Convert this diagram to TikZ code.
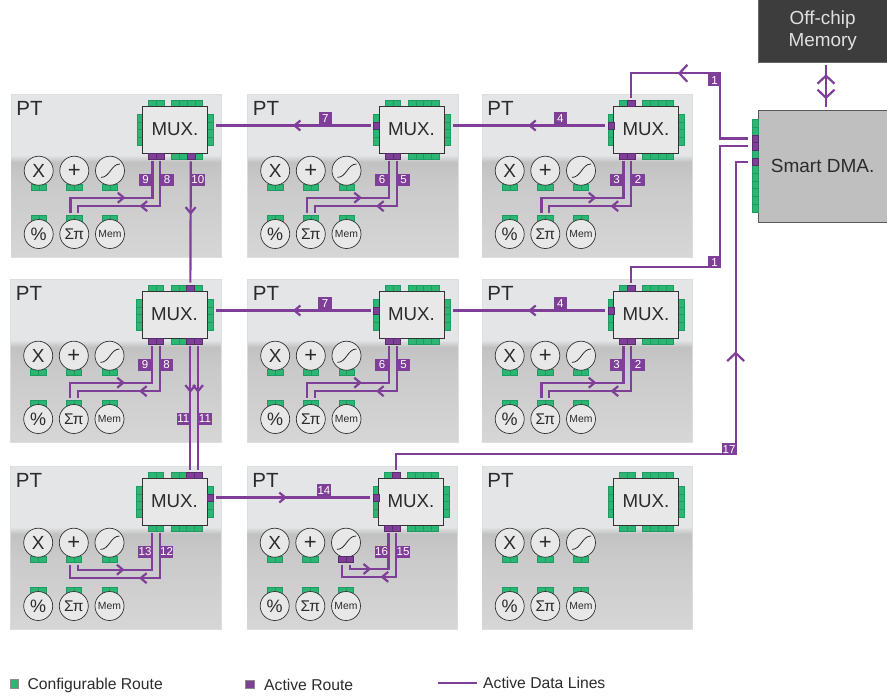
\documentclass[tikz,border=0pt]{standalone}
\usepackage{fontspec}
\setmainfont{Liberation Sans}
\usepackage{xcolor}
\usetikzlibrary{arrows.meta, decorations.markings, shapes.geometric}

\definecolor{routegreen}{HTML}{2BB673}
\definecolor{routeedge}{HTML}{1F9A62}
\definecolor{routepurple}{HTML}{7F3F98}
\definecolor{panelface}{HTML}{E4E5E6}
\definecolor{inkdark}{HTML}{2B2B2B}

\tikzset{
    smallbarb/.tip={Straight Barb[length=6pt,width=10pt]},
    largebarb/.tip={Straight Barb[length=8pt,width=17pt]},
    dataline/.style={draw=routepurple, line width=2.2pt, shorten <=2.5pt, shorten >=2.5pt},
    midarrow/.style={postaction={decorate, decoration={markings,
        mark=at position #1 with {\arrow{smallbarb}}}}},
    largearrow/.style={postaction={decorate, decoration={markings,
        mark=at position #1 with {\arrow{largebarb}}}}},
    largeback/.style={postaction={decorate, decoration={markings,
        mark=at position #1 with {\arrowreversed{largebarb}}}}},
    portcell/.style={draw=routeedge, fill=routegreen, line width=0.35pt, inner sep=0pt, outer sep=0pt,
        minimum width=7.67pt, minimum height=6pt},
    portside/.style={portcell, minimum width=6pt, minimum height=7.67pt},
    portlive/.style={portcell, fill=routepurple, draw=routepurple!70!black},
    portsidelive/.style={portside, fill=routepurple, draw=routepurple!70!black},
    ptpanel/.style={draw=black!13, fill=panelface, line width=0.8pt, inner sep=0pt,
        minimum width=210.5pt, minimum height=163pt},
    muxbox/.style={draw=black!80, fill=black!9, line width=0.9pt, inner sep=0pt,
        minimum width=65pt, minimum height=47pt, text=inkdark, font=\fontsize{18.7}{20}\selectfont},
    fncircle/.style={circle, draw=black!80, fill=black!9, line width=0.7pt, inner sep=0pt,
        minimum size=29pt, text=inkdark},
    routetag/.style={fill=routepurple, text=white, inner sep=0pt, minimum width=13.5pt, minimum height=12pt,
        font=\fontsize{11.5}{12}\selectfont},
    keytext/.style={anchor=west, inner sep=0pt, text=inkdark, font=\fontsize{15.7}{17}\selectfont},
    keycell/.style={draw=black!45, line width=0.3pt, inner sep=0pt, minimum size=8.5pt}
}

% One processing tile: backing, ports, multiplexer and function circles
\newcommand{\pttile}[3]{
    \begin{scope}[shift={(#2,#3)}]
        \node[ptpanel] (#1) at (105.25,81.5) {};
        \shade[top color=panelface, bottom color=black!24] (0.4,61) rectangle (210.1,68);
        \shade[top color=black!24, bottom color=black!21] (0.4,68) rectangle (210.1,90);
        \shade[top color=black!21, bottom color=black!16] (0.4,90) rectangle (210.1,162.6);
        \node[anchor=west, inner sep=0pt, text=inkdark, font=\fontsize{20.5}{22}\selectfont] (#1-pt) at (5.2,14.5) {PT};
        \coordinate (#1-tagy) at (0,85.5);

        % Ports round the multiplexer
        \foreach \i in {1,2} {
            \node[portcell] (#1-tl\i) at ({133.83+7.67*\i},9) {};
            \node[portcell] (#1-bl\i) at ({133.83+7.67*\i},61.85) {};
        }
        \foreach \i in {1,...,4} {
            \node[portcell] (#1-tr\i) at ({156.83+7.67*\i},9) {};
            \node[portcell] (#1-br\i) at ({156.83+7.67*\i},61.85) {};
            \node[portside] (#1-lf\i) at (128.7,{16.17+7.67*\i}) {};
            \node[portside] (#1-rt\i) at (199.5,{16.17+7.67*\i}) {};
        }
        \node[muxbox] (#1-mux) at (164,35.5) {\raisebox{-0.5pt}{MUX.}};

        % Function ports, then the circles on top of them
        \foreach \fn/\cx/\cy in {x/27.7/93, add/63.3/93, sig/99/93, mod/27.7/124.3, sum/63.3/124.3, mem/99/124.3} {
            \node[portcell] (#1-\fn1) at (\cx-3.83,\cy) {};
            \node[portcell] (#1-\fn2) at (\cx+3.83,\cy) {};
        }
        \foreach \fn/\cx/\cy/\fs/\txt in {x/27.7/76.7/19/X, add/63.3/76.7/22/+, sig/99/76.7/10/{},
                                          mod/27.7/140/18/\%, sum/63.3/140/15.5/Σπ, mem/99/140/10.4/Mem} {
            \node[fncircle, font=\fontsize{\fs}{\fs}\selectfont] (#1-\fn) at (\cx,\cy) {\txt};
        }
        \draw[inkdark, line width=0.8pt] ([shift={(-9,6.7)}]#1-sig.center)
            .. controls +(9,0) and +(-9,0) .. ([shift={(10,-6.7)}]#1-sig.center);
    \end{scope}
}

% Pair of routes between the multiplexer and the sum circle
\newcommand{\sumroutes}[3]{
    \draw[dataline, midarrow=72.6pt] (#1-sum1.north) -- ++(0,-17.6) -| (#1-bl1.south);
    \draw[dataline, midarrow=68pt] (#1-bl2.south) -- ++(0,47.3) -| (#1-sum2.north);
    \node[routetag, anchor=east] (#1-tag#2) at (#1-bl1 |- #1-tagy) {#2};
    \node[routetag, anchor=west] (#1-tag#3) at (#1-bl2 |- #1-tagy) {#3};
}

\begin{document}
\begin{tikzpicture}[x=1pt, y=-1pt]
    \useasboundingbox (0,0) rectangle (887,697);

    % Tiles
    \pttile{a1}{11}{94}
    \pttile{b1}{247.5}{94}
    \pttile{c1}{482}{94}
    \pttile{a2}{10.5}{279}
    \pttile{b2}{247.5}{279}
    \pttile{c2}{482}{279}
    \pttile{a3}{10.5}{466}
    \pttile{b3}{247}{466}
    \pttile{c3}{482}{466}

    % Off-chip memory and the DMA block with its port strip
    \node[draw=black!60, fill=black!76, text=black!12, inner sep=0pt, minimum width=128.7pt, minimum height=64.3pt,
          align=center, font=\fontsize{18.9}{23}\selectfont] (offchip) at (822.65,30.15) {\raisebox{-1pt}{Off-chip}\\Memory};
    \node[draw=black!65, fill=black!25, text=inkdark, inner sep=0pt, minimum width=128.7pt, minimum height=112pt,
          font=\fontsize{19}{21}\selectfont] (dma) at (822.65,165.7) {Smart DMA.};
    \foreach \i in {1,...,12} {
        \node[portside] (dma-p\i) at (755.3,{115.45+7.7*\i}) {};
    }

    % Routes in use
    \foreach \p in {a1-bl1,a1-bl2,a1-br3,b1-bl1,b1-bl2,c1-bl1,c1-bl2,c1-tl2,
                    a2-tr3,a2-bl1,a2-bl2,a2-br3,a2-br4,b2-bl1,b2-bl2,c2-bl1,c2-bl2,c2-tl2,
                    a3-tr3,a3-tr4,b3-tl2,b3-bl1,b3-bl2,b3-sig1,b3-sig2} {
        \node[portlive] (\p-on) at (\p) {};
    }
    \foreach \p in {b1-lf2,c1-lf2,b2-lf2,c2-lf2,b3-lf2,a3-rt2,dma-p3,dma-p4,dma-p6} {
        \node[portsidelive] (\p-on) at (\p) {};
    }

    % Memory link
    \coordinate (memlink) at (826,30);
    \draw[dataline, largeback=11.7pt, largearrow=36.7pt] (offchip.south -| memlink) -- (dma.north -| memlink);

    % Lines out of the DMA block
    \coordinate (dma-upa) at (720.3,73.3);
    \coordinate (dma-upb) at (720.3,267.3);
    \coordinate (dma-upc) at (735.7,454.3);
    \draw[dataline, shorten <=4pt, largearrow=139.7pt] (dma-p3.west) -| (dma-upa) -| (c1-tl2.north);
    \draw[dataline, shorten <=4pt] (dma-p4.west) -| (dma-upb) -| (c2-tl2.north);
    \draw[dataline, shorten <=2pt, shorten >=4pt, largearrow=460pt] (b3-tl2.north) |- (dma-upc) |- (dma-p6.west);
    \node[routetag, anchor=north east] (c1-tag1) at ([shift={(1.1,0.9)}]dma-upa) {1};
    \node[routetag, anchor=south east] (c2-tag1) at ([shift={(1.1,1.1)}]dma-upb) {1};
    \node[routetag, anchor=south east, minimum width=15pt] (b3-tag17) at ([shift={(1.1,1.1)}]dma-upc) {17};

    % Lines between tiles, row by row
    \draw[dataline, midarrow=80.5pt] (b1-lf2.west) -- node[routetag, anchor=south, pos=0.30] (b1-tag7) {7} (a1-rt2.east);
    \draw[dataline, midarrow=79.7pt] (c1-lf2.west) -- node[routetag, anchor=south, pos=0.30] (c1-tag4) {4} (b1-rt2.east);
    \draw[dataline, midarrow=80.5pt] (b2-lf2.west) -- node[routetag, anchor=south, pos=0.30] (b2-tag7) {7} (a2-rt2.east);
    \draw[dataline, midarrow=79.7pt] (c2-lf2.west) -- node[routetag, anchor=south, pos=0.30] (c2-tag4) {4} (b2-rt2.east);
    \draw[dataline, midarrow=74pt] (a3-rt2.east) -- node[routetag, anchor=south, pos=0.695] (a3-tag14) {14} (b3-lf2.west);

    % Lines down the left column
    \draw[dataline, midarrow=56pt] (a1-br3.south) -- (a2-tr3.north);
    \node[routetag, anchor=west] (a1-tag10) at (a1-br3 |- a1-tagy) {10};
    \draw[dataline, midarrow=49pt] (a2-br3.south) -- (a3-tr3.north);
    \draw[dataline, midarrow=49pt] (a2-br4.south) -- (a3-tr4.north);
    \node[routetag, anchor=east] (a2-tag11a) at ([yshift=-54pt]a2-br3 |- a2-tagy) {11};
    \node[routetag, anchor=west] (a2-tag11b) at ([yshift=-54pt]a2-br4 |- a2-tagy) {11};

    % Routes inside the tiles
    \sumroutes{a1}{9}{8}
    \sumroutes{b1}{6}{5}
    \sumroutes{c1}{3}{2}
    \sumroutes{a2}{9}{8}
    \sumroutes{b2}{6}{5}
    \sumroutes{c2}{3}{2}

    \draw[dataline, midarrow=54.7pt] (a3-add2.south) -- ++(0,7.7) -| (a3-bl1.south);
    \draw[dataline, midarrow=68pt] (a3-bl2.south) -- ++(0,47.3) -| (a3-add1.south);
    \node[routetag, anchor=east] (a3-tag13) at (a3-bl1 |- a3-tagy) {13};
    \node[routetag, anchor=west] (a3-tag12) at (a3-bl2 |- a3-tagy) {12};

    \draw[dataline, midarrow=28.4pt] (b3-sig2.south) -- ++(0,7) -| (b3-bl1.south);
    \draw[dataline, midarrow=61.7pt] (b3-bl2.south) -- ++(0,46) -| (b3-sig1.south);
    \node[routetag, anchor=east] (b3-tag16) at (b3-bl1 |- b3-tagy) {16};
    \node[routetag, anchor=west] (b3-tag15) at (b3-bl2 |- b3-tagy) {15};

    % Legend
    \node[keycell, fill=routegreen] (keyconfig) at (14.2,683.5) {};
    \node[keytext] (keyconfigtext) at (27.3,685) {Configurable Route};
    \node[keycell, fill=routepurple] (keyactive) at (249.5,684) {};
    \node[keytext] (keyactivetext) at (264,684.5) {Active Route};
    \coordinate (keylinea) at (437.5,683);
    \coordinate (keylineb) at (476.5,683);
    \draw[draw=routepurple, line width=2.2pt] (keylinea) -- (keylineb);
    \node[keytext] (keylinetext) at (483,682.5) {Active Data Lines};
\end{tikzpicture}
\end{document}
